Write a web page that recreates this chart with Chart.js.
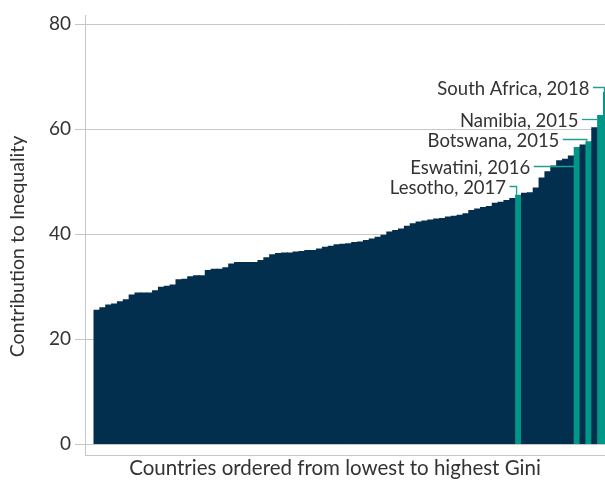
<!DOCTYPE html>
<html>
<head>
<meta charset="utf-8">
<script src="https://cdn.jsdelivr.net/npm/chart.js@4.4.1/dist/chart.umd.min.js"></script>
<style>
  html, body { margin: 0; padding: 0; background: #fff; overflow: hidden; }
  canvas { display: block; }
</style>
</head>
<body>
<canvas id="giniChart" width="605" height="484"></canvas>
<script>
// DATA - contribution to inequality, countries sorted from lowest to highest Gini
const contribution = [
  25.5, 26.0, 26.5, 26.7, 27.1, 27.5, 28.4, 28.8, 28.8, 28.8,
  29.2, 29.9, 30.1, 30.3, 31.3, 31.4, 31.9, 32.1, 32.1, 33.1,
  33.3, 33.3, 33.6, 34.3, 34.6, 34.6, 34.6, 34.6, 35.0, 35.5,
  36.1, 36.3, 36.4, 36.4, 36.6, 36.7, 36.9, 36.9, 37.2, 37.5,
  37.7, 38.0, 38.1, 38.2, 38.4, 38.5, 38.8, 39.1, 39.4, 39.8,
  40.4, 40.7, 41.0, 41.5, 42.0, 42.3, 42.5, 42.7, 42.9, 43.0,
  43.3, 43.4, 43.6, 43.9, 44.5, 44.8, 45.1, 45.3, 45.9, 46.1,
  46.4, 46.8, 47.4, 47.8, 47.9, 48.8, 50.7, 51.9, 53.0, 54.0,
  54.3, 54.9, 56.5, 57.0, 57.6, 60.3, 62.6, 67.0
];
const highlightIndex = [72, 82, 84, 86, 87];
const highlightNames = ['Lesotho, 2017', 'Eswatini, 2016', 'Botswana, 2015', 'Namibia, 2015', 'South Africa, 2018'];
const yTicks = [0, 20, 40, 60, 80];
const yTitle = 'Contribution to Inequality';
const xTitle = 'Countries ordered from lowest to highest Gini';

// STYLE
const NAVY = '#022f4e';
const TEAL = '#009688';
const LEADER = '#1ea192';
const GRID = '#c6c6c6';
const TEXT = '#333333';
const FONT = 'Lato, "Open Sans", sans-serif';

// where each label sits (value level of its leader line) and leader length in px
const labelLevel = [49.1, 53.0, 58.1, 61.9, 68.1];
const leaderLength = [7, 40.5, 24, 15.6, 11.4];

// bar colours: teal for the highlighted countries
const barColors = contribution.map((v, i) => highlightIndex.includes(i) ? TEAL : NAVY);
const points = contribution.map((v, i) => ({ x: i, y: v }));

// draws the country labels, leaders and both axis titles
const labelPlugin = {
    id: 'labelPlugin',
    afterDatasetsDraw(chart) {
        const ctx = chart.ctx;
        const yScale = chart.scales.y;
        const bars = chart.getDatasetMeta(0).data;

        ctx.save();
        ctx.font = '18.5px ' + FONT;
        ctx.textAlign = 'right';
        ctx.textBaseline = 'middle';
        highlightIndex.forEach((idx, k) => {
            const bar = bars[idx];
            const lineY = Math.round(yScale.getPixelForValue(labelLevel[k])) + 0.5;
            const topY = yScale.getPixelForValue(contribution[idx]);
            const dropDown = labelLevel[k] > contribution[idx];
            const endX = dropDown ? bar.x - 2 : bar.x - bar.width / 2;
            const startX = endX - leaderLength[k];

            ctx.strokeStyle = LEADER;
            ctx.lineWidth = 1.3;
            ctx.beginPath();
            ctx.moveTo(startX, lineY);
            ctx.lineTo(endX, lineY);
            if (dropDown) ctx.lineTo(endX, topY);
            ctx.stroke();

            ctx.fillStyle = TEXT;
            ctx.fillText(highlightNames[k], startX - 3.5, lineY + 1.5);
        });

        // axis titles
        ctx.fillStyle = TEXT;
        ctx.textAlign = 'center';
        ctx.textBaseline = 'alphabetic';
        ctx.font = '20.5px ' + FONT;
        ctx.fillText(xTitle, 335, 474.5);

        ctx.font = '19.5px ' + FONT;
        ctx.translate(24, 246.5);
        ctx.rotate(-Math.PI / 2);
        ctx.fillText(yTitle, 0, 0);
        ctx.restore();
    }
};

const chart = new Chart(document.getElementById('giniChart').getContext('2d'), {
    type: 'bar',
    data: {
        datasets: [{
            label: 'Contribution to Inequality',
            data: points,
            backgroundColor: barColors,
            borderWidth: 0,
            inflateAmount: 0.5,
            barPercentage: 1,
            categoryPercentage: 1
        }]
    },
    options: {
        responsive: false,
        animation: false,
        devicePixelRatio: 1,
        layout: { padding: { top: 13, right: 0, bottom: 0, left: 0 } },
        plugins: {
            legend: { display: false },
            tooltip: { enabled: false }
        },
        scales: {
            x: {
                type: 'linear',
                offset: false,
                min: -2.037,
                max: 86.76,
                grid: { display: false, offset: false },
                border: { display: true, color: GRID, width: 1 },
                ticks: { display: false, stepSize: 10 },
                afterFit(scale) { scale.height = 29; }
            },
            y: {
                min: -2.085,
                max: 81.7,
                afterBuildTicks(scale) {
                    scale.ticks = yTicks.map(v => ({ value: v }));
                },
                afterFit(scale) { scale.width = 85; },
                grid: { color: GRID, lineWidth: 1, tickLength: 10, drawTicks: true },
                border: { display: true, color: GRID, width: 1 },
                ticks: {
                    color: TEXT,
                    padding: 4,
                    font: { family: FONT, size: 19 }
                }
            }
        }
    },
    plugins: [labelPlugin]
});
</script>
</body>
</html>
